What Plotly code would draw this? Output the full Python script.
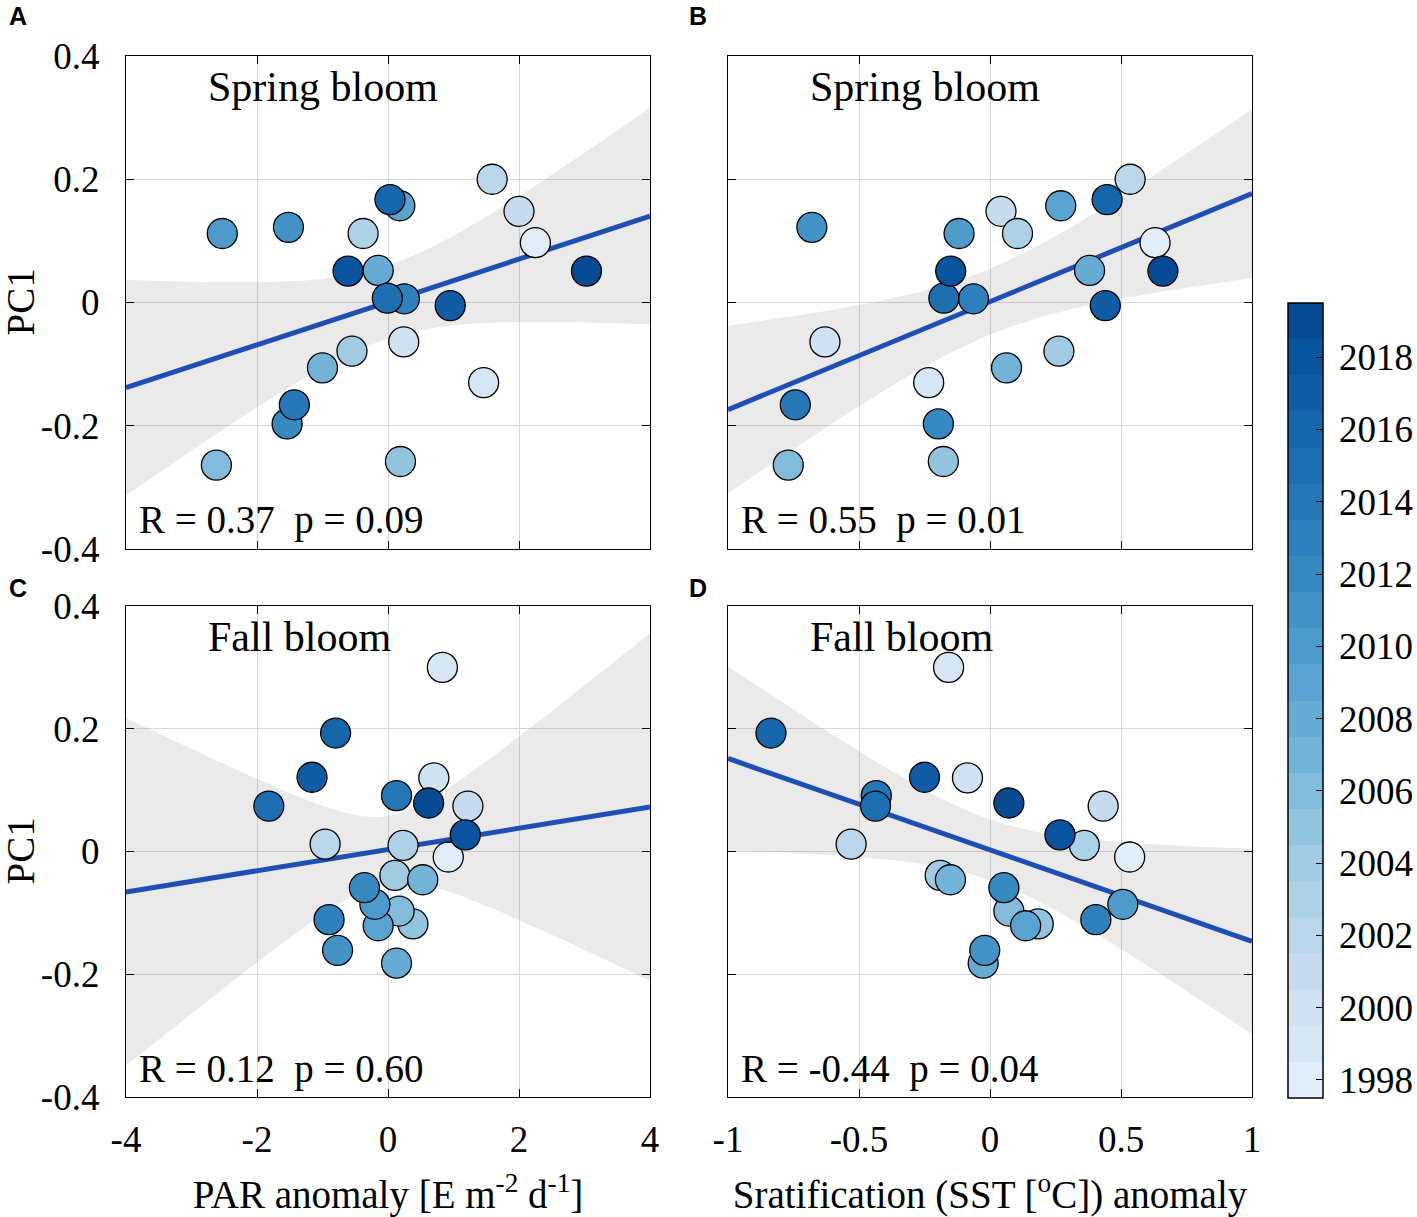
import numpy as np
import plotly.graph_objects as go

# ---------------- data ----------------
years = list(range(1998, 2020))

spring_pc1 = [0.097, -0.130, -0.064, 0.148, 0.200, 0.112, -0.079, -0.258, -0.264, -0.106, 0.052,
              0.157, 0.112, 0.122, -0.197, 0.006, -0.166, 0.007, 0.167, -0.005, 0.051, 0.051]
spring_par = [2.25, 1.46, 0.24, 2.00, 1.59, -0.38, -0.55, 0.19, -2.62, -1.00, -0.15,
              0.18, -2.53, -1.52, -1.54, 0.25, -1.43, -0.01, 0.03, 0.95, -0.61, 3.03]
spring_sst = [0.63, -0.234, -0.63, 0.042, 0.535, 0.105, 0.263, -0.178, -0.77, 0.063, 0.38,
              0.27, -0.118, -0.68, -0.197, -0.063, -0.743, -0.176, 0.447, 0.44, -0.15, 0.66]

fall_pc1 = [-0.009, 0.300, 0.120, 0.074, 0.012, 0.010, -0.039, -0.118, -0.097, -0.046, -0.182,
            -0.121, -0.086, -0.161, -0.059, -0.111, 0.091, 0.074, 0.193, 0.121, 0.027, 0.079]
fall_par = [0.92, 0.83, 0.70, 1.22, -0.96, 0.23, 0.105, 0.38, 0.17, 0.53, 0.13,
            -0.15, -0.20, -0.77, -0.36, -0.90, 0.13, -1.82, -0.80, -1.16, 1.18, 0.62]
fall_sst = [0.533, -0.158, -0.086, 0.432, -0.53, 0.36, -0.19, 0.184, 0.072, -0.151, -0.026,
            0.136, 0.507, -0.020, 0.053, 0.404, -0.434, -0.437, -0.836, -0.25, 0.267, 0.072]

par_ticks = [-4, -2, 0, 2, 4]
sst_ticks = [-1, -0.5, 0, 0.5, 1]
sst_ticktext = ["-1", "-0.5", "0", "0.5", "1"]
pc1_ticks = [-0.4, -0.2, 0, 0.2, 0.4]
pc1_ticktext = ["-0.4", "-0.2", "0", "0.2", "0.4"]
par_ticktext = ["-4", "-2", "0", "2", "4"]
cbar_ticks = list(range(1998, 2019, 2))

panel_letters = ["A", "B", "C", "D"]
bloom_titles = ["Spring bloom", "Spring bloom", "Fall bloom", "Fall bloom"]
stats_text = ["R = 0.37\u00a0\u00a0p = 0.09", "R = 0.55\u00a0\u00a0p = 0.01",
              "R = 0.12\u00a0\u00a0p = 0.60", "R = -0.44\u00a0\u00a0p = 0.04"]
y_title = "PC1"
x_titles = ["PAR anomaly [E m<sup>-2</sup> d<sup>-1</sup>]",
            "Sratification (SST [<sup>o</sup>C]) anomaly"]
t_crit = 2.086  # Student t, 95%, df = 20

# ---------------- styling ----------------
W, H = 1417, 1217
SERIF = "Liberation Serif"
SANS = "Liberation Sans"

blues = [(0.0, (247, 251, 255)), (0.125, (222, 235, 247)), (0.25, (198, 219, 239)),
         (0.375, (158, 202, 225)), (0.5, (107, 174, 214)), (0.625, (66, 146, 198)),
         (0.75, (33, 113, 181)), (0.875, (8, 81, 156)), (1.0, (8, 48, 107))]


def blues_at(t):
    for (t0, c0), (t1, c1) in zip(blues[:-1], blues[1:]):
        if t0 <= t <= t1:
            f = (t - t0) / (t1 - t0)
            return tuple(int(round(a + (b - a) * f)) for a, b in zip(c0, c1))
    return blues[-1][1]


nlev = len(years)
cols = []
for k in range(nlev):
    t = 0.11 + 0.79 * (k / (nlev - 1)) ** 0.9
    cols.append("rgb(%d,%d,%d)" % blues_at(t))
colorscale = []
for k, c in enumerate(cols):
    colorscale.append([k / nlev, c])
    colorscale.append([(k + 1) / nlev, c])

# pixel boxes of the four panels (left, right, top, bottom)
boxes = [(126, 650, 56, 549), (728, 1252, 56, 549),
         (126, 650, 606, 1097), (728, 1252, 606, 1097)]
letter_pos = [(7, 16), (687, 16), (7, 588), (687, 588)]


def px(v):
    return v / W


def py(v):
    return 1 - v / H


def dom_x(b):
    return [px(b[0]), px(b[1])]


def dom_y(b):
    return [py(b[3]), py(b[2])]


panels = [
    (spring_par, spring_pc1, [-4, 4]),
    (spring_sst, spring_pc1, [-1, 1]),
    (fall_par, fall_pc1, [-4, 4]),
    (fall_sst, fall_pc1, [-1, 1]),
]

fig = go.Figure()

for i, (xv, yv, xr) in enumerate(panels):
    xs = "x" if i == 0 else "x%d" % (i + 1)
    ys = "y" if i == 0 else "y%d" % (i + 1)
    x = np.asarray(xv, float)
    y = np.asarray(yv, float)
    n = len(x)
    b, a = np.polyfit(x, y, 1)
    resid = y - (a + b * x)
    s = np.sqrt(np.sum(resid ** 2) / (n - 2))
    xbar = x.mean()
    sxx = np.sum((x - xbar) ** 2)
    xg = np.linspace(xr[0], xr[1], 200)
    yg = a + b * xg
    hw = t_crit * s * np.sqrt(1.0 / n + (xg - xbar) ** 2 / sxx)
    fig.add_trace(go.Scatter(
        x=np.concatenate([xg, xg[::-1]]),
        y=np.concatenate([yg + hw, (yg - hw)[::-1]]),
        fill="toself", fillcolor="rgba(140,140,140,0.18)",
        line=dict(width=0), mode="lines", hoverinfo="skip",
        showlegend=False, xaxis=xs, yaxis=ys))
    fig.add_trace(go.Scatter(
        x=xg, y=yg, mode="lines", line=dict(color="#1f4fb5", width=5),
        showlegend=False, xaxis=xs, yaxis=ys))
    fig.add_trace(go.Scatter(
        x=x, y=y, mode="markers",
        marker=dict(size=30, color=years, coloraxis="coloraxis",
                    line=dict(color="black", width=1.3)),
        showlegend=False, xaxis=xs, yaxis=ys))

axis_common = dict(
    showline=True, linecolor="black", linewidth=1.3, mirror="allticks",
    ticks="inside", ticklen=8, tickwidth=1.2, tickcolor="black",
    showgrid=True, gridcolor="#d6d6d6", gridwidth=1, zeroline=False,
    automargin=False,
    tickfont=dict(family=SERIF, size=37, color="black"),
)

layout = dict(
    width=W, height=H, autosize=False,
    margin=dict(l=0, r=0, t=0, b=0, autoexpand=False),
    paper_bgcolor="white", plot_bgcolor="white",
    font=dict(family=SERIF, color="black"),
    coloraxis=dict(
        colorscale=colorscale, cmin=1997.5, cmax=2019.5,
        colorbar=dict(
            x=px(1288), xanchor="left", xpad=0, ypad=0,
            y=py(1098), yanchor="bottom",
            len=(1098 - 303) / H, lenmode="fraction",
            thickness=35, thicknessmode="pixels",
            outlinecolor="black", outlinewidth=1.5,
            tickvals=cbar_ticks, ticktext=["\u2009" + str(v) for v in cbar_ticks],
            ticks="inside", ticklen=7, tickcolor="black", tickwidth=1.2,
            tickfont=dict(family=SERIF, size=37, color="black"),
        ),
    ),
)

for i, bx in enumerate(boxes):
    xk = "xaxis" if i == 0 else "xaxis%d" % (i + 1)
    yk = "yaxis" if i == 0 else "yaxis%d" % (i + 1)
    ya = "y" if i == 0 else "y%d" % (i + 1)
    xa = "x" if i == 0 else "x%d" % (i + 1)
    is_par = i in (0, 2)
    xax = dict(axis_common)
    xax.update(domain=dom_x(bx), anchor=ya,
               range=[-4, 4] if is_par else [-1, 1],
               tickvals=par_ticks if is_par else sst_ticks,
               ticktext=par_ticktext if is_par else sst_ticktext,
               showticklabels=i >= 2, ticklabelstandoff=9)
    if i >= 2:
        xax["title"] = dict(text=x_titles[i - 2],
                            font=dict(family=SERIF, size=39, color="black"),
                            standoff=24)
    yax = dict(axis_common)
    yax.update(domain=dom_y(bx), anchor=xa, range=[-0.4, 0.4],
               tickvals=pc1_ticks, ticktext=pc1_ticktext,
               showticklabels=is_par, ticklabelstandoff=18)
    layout[xk] = xax
    layout[yk] = yax

annotations = []
for i, bx in enumerate(boxes):
    xa = "x" if i == 0 else "x%d" % (i + 1)
    ya = "y" if i == 0 else "y%d" % (i + 1)
    lx, ly = letter_pos[i]
    annotations.append(dict(
        text="<b>%s</b>" % panel_letters[i], xref="paper", yref="paper",
        x=px(lx), y=py(ly),
        xanchor="left", yanchor="middle", showarrow=False,
        font=dict(family=SANS, size=25, color="black")))
    annotations.append(dict(
        text=bloom_titles[i], xref=xa + " domain", yref=ya + " domain",
        x=0.152, y=0.937, xanchor="left", yanchor="middle", showarrow=False,
        font=dict(family=SERIF, size=42, color="black")))
    annotations.append(dict(
        text=stats_text[i], xref=xa + " domain", yref=ya + " domain",
        x=0.021, y=0.058, xanchor="left", yanchor="middle", showarrow=False,
        font=dict(family=SERIF, size=39, color="black")))
    if i in (0, 2):
        annotations.append(dict(
            text=y_title, xref="paper", yref=ya + " domain",
            x=px(20), y=0.5, xanchor="center", yanchor="middle",
            textangle=-90, showarrow=False,
            font=dict(family=SERIF, size=39, color="black")))
layout["annotations"] = annotations

fig.update_layout(**layout)
fig.write_html(
    "out.html",
    config={"displayModeBar": False},
    post_script="document.documentElement.style.overflow='hidden';"
                "document.body.style.margin='0px';document.body.style.overflow='hidden';")
